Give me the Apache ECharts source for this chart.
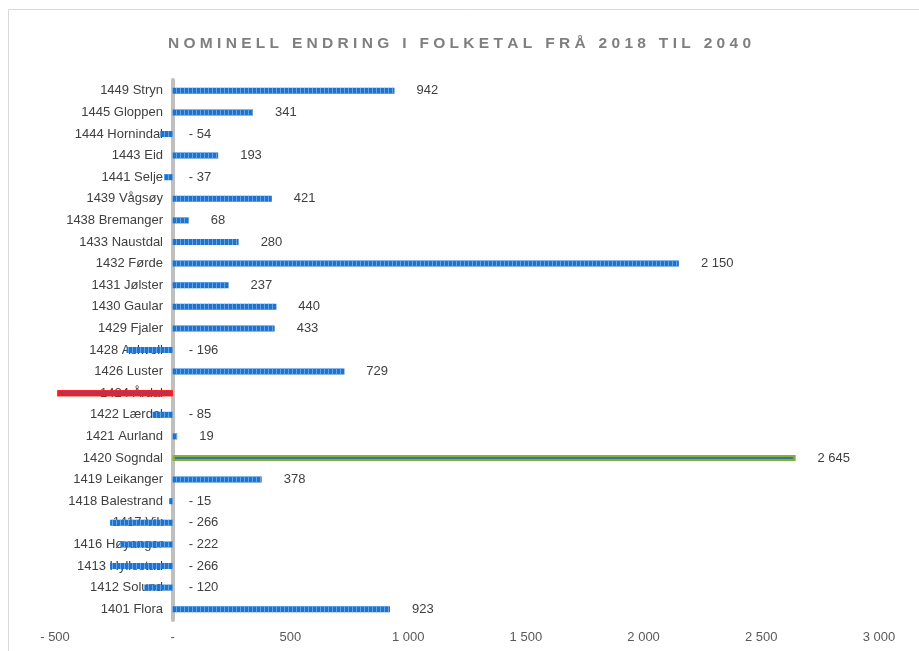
<!DOCTYPE html>
<html>
<head>
<meta charset="utf-8">
<script src="https://cdn.jsdelivr.net/npm/echarts@6/dist/echarts.min.js"></script>
<style>html,body{margin:0;padding:0;background:#fff}#c{width:919px;height:651px}</style>
</head>
<body>
<div id="c"></div>
<script>
const categories = ["1449 Stryn","1445 Gloppen","1444 Hornindal","1443 Eid","1441 Selje","1439 Vågsøy","1438 Bremanger","1433 Naustdal","1432 Førde","1431 Jølster","1430 Gaular","1429 Fjaler","1428 Askvoll","1426 Luster","1424 Årdal","1422 Lærdal","1421 Aurland","1420 Sogndal","1419 Leikanger","1418 Balestrand","1417 Vik","1416 Høyanger","1413 Hyllestad","1412 Solund","1401 Flora"];
const values = [942,341,-54,193,-37,421,68,280,2150,237,440,433,-196,729,-490,-85,19,2645,378,-15,-266,-222,-266,-120,923];
const xTicks = [-500,0,500,1000,1500,2000,2500,3000];
const title = "NOMINELL ENDRING I FOLKETAL FRÅ 2018 TIL 2040";

function fmt(v){
  if (v === 0) return "-";
  const a = Math.abs(v).toString().replace(/\B(?=(\d{3})+(?!\d))/g, " ");
  return v < 0 ? "- " + a : a;
}
function spaced(t){
  return t.split(" ").map(w => w.split("").join(" ")).join("   ");
}
const hidden = "1424 Årdal";
const highlight = "1420 Sogndal";
const noDecal = {symbol:'rect', symbolSize:1, dashArrayX:[[2,1]], dashArrayY:[10,0], color:'rgba(0,0,0,0)'};
const data = values.map((v,i) => {
  const c = categories[i];
  const d = {value: v};
  if (c === hidden) {
    d.itemStyle = {color:"#4b5aa6", borderColor:"#ff1a1a", borderWidth:2, decal:noDecal};
    d.label = {show:false};
  } else if (c === highlight) {
    d.itemStyle = {color:"#2e7a9c", borderColor:"#8aae3c", borderWidth:2, decal:noDecal};
  } else if (v < 0) {
    d.label = {distance: 16};
  }
  return d;
});

const chart = echarts.init(document.getElementById('c'));
chart.setOption({
  animation:false,
  title:{text: spaced(title), left: 'center', top: 31,
    textStyle:{fontFamily:'Liberation Sans', fontSize:15.5, fontWeight:'bold', color:'#7f7f7f'}},
  graphic:[{type:'rect', shape:{x:8.5,y:9.5,width:930,height:700}, style:{fill:'none', stroke:'#d9d9d9', lineWidth:1}, silent:true, z:-1}],
  grid:{left:55, right:40, top:80, bottom:31, containLabel:false, outerBoundsMode:'none'},
  xAxis:{type:'value', min:-500, max:3000, interval:500,
    axisLine:{show:false}, axisTick:{show:false}, splitLine:{show:false},
    axisLabel:{formatter: v => fmt(v), color:'#595959', fontFamily:'Liberation Sans', fontSize:13, margin:11}},
  yAxis:{type:'category', data: categories, inverse:true,
    axisLine:{show:true, onZero:true, lineStyle:{color:'#bfbfbf', width:4}},
    axisTick:{show:false},
    axisLabel:{color:'#404040', fontFamily:'Liberation Sans', fontSize:13, margin:-108}},
  series:[{type:'bar', data: data, barWidth:6,
    itemStyle:{color:'#1c74d0',
      decal:{symbol:'rect', symbolSize:1, dashArrayX:[[1,3]], dashArrayY:[10,0], color:'rgba(110,170,230,0.9)', rotation:0}},
    label:{show:true, position:'right', distance:22, formatter: p => fmt(p.value),
      color:'#404040', fontFamily:'Liberation Sans', fontSize:13}
  }]
});
</script>
</body>
</html>
